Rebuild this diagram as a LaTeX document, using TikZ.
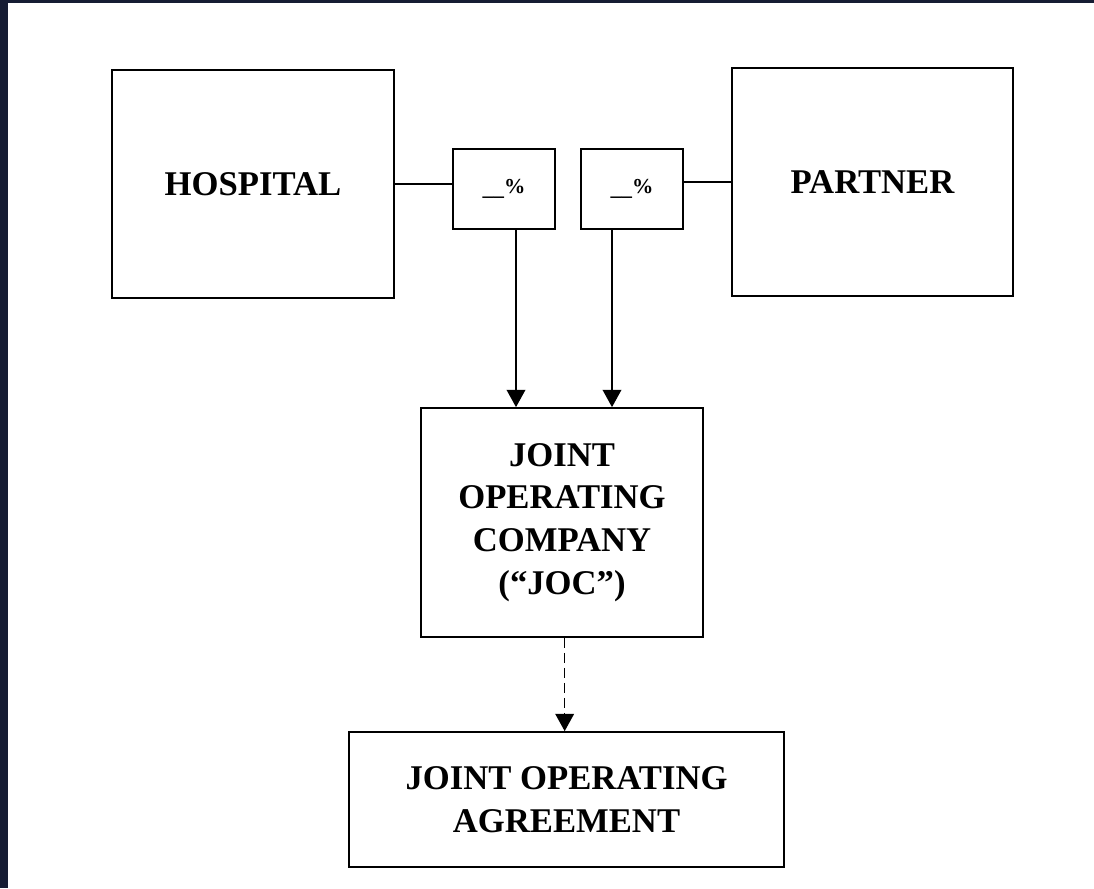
\documentclass[tikz,border=0pt]{standalone}
\usepackage{fontspec}
\setmainfont{Liberation Serif}
\usetikzlibrary{arrows.meta}

\tikzset{
  box/.style={draw,line width=1.3pt,inner sep=0pt,align=center,
    font=\bfseries\fontsize{26}{32}\selectfont},
  pct/.style={box,font=\bfseries\fontsize{16}{18}\selectfont},
  arr/.style={line width=1.2pt,-{Triangle[length=13pt,width=14pt]}},
}

\begin{document}
\begin{tikzpicture}[x=0.75pt,y=0.75pt,yscale=-1]
\fill[fill={rgb,255:red,22;green,28;blue,51}] (0,0) rectangle (1094,888);
\fill[white] (8,3) rectangle (1094,888);
\useasboundingbox (0,0) rectangle (1094,888);
\node[box,minimum width=211.5pt,minimum height=171pt] (hosp) at (253,184) {HOSPITAL};
\node[box,minimum width=210.75pt,minimum height=171pt] (part) at (872.5,182) {PARTNER};
\node[pct,minimum width=76.5pt,minimum height=60pt] (pl) at (504,189) {\_\_\raisebox{2pt}{\%}};
\node[pct,minimum width=76.5pt,minimum height=60pt] (pr) at (632,189) {\_\_\raisebox{2pt}{\%}};
\node[box,minimum width=211.5pt,minimum height=171.75pt] (joc) at (562,522.5) {JOINT\\OPERATING\\COMPANY\\(“JOC”)};
\node[box,minimum width=326.25pt,minimum height=101.25pt] (agr) at (566.5,799.5) {JOINT OPERATING\\AGREEMENT};
\draw[line width=1.2pt] (hosp.east) -- (hosp.east -| pl.west);
\draw[line width=1.2pt] (part.west) -- (part.west -| pr.east);
\draw[arr] ([xshift=9pt]pl.south) -- ([xshift=9pt]pl.south |- joc.north);
\draw[arr] ([xshift=-15pt]pr.south) -- ([xshift=-15pt]pr.south |- joc.north);
\draw[arr,dash pattern=on 7.5pt off 3.75pt] ([xshift=2pt]joc.south) -- ([xshift=2pt]joc.south |- agr.north);
\end{tikzpicture}
\end{document}
